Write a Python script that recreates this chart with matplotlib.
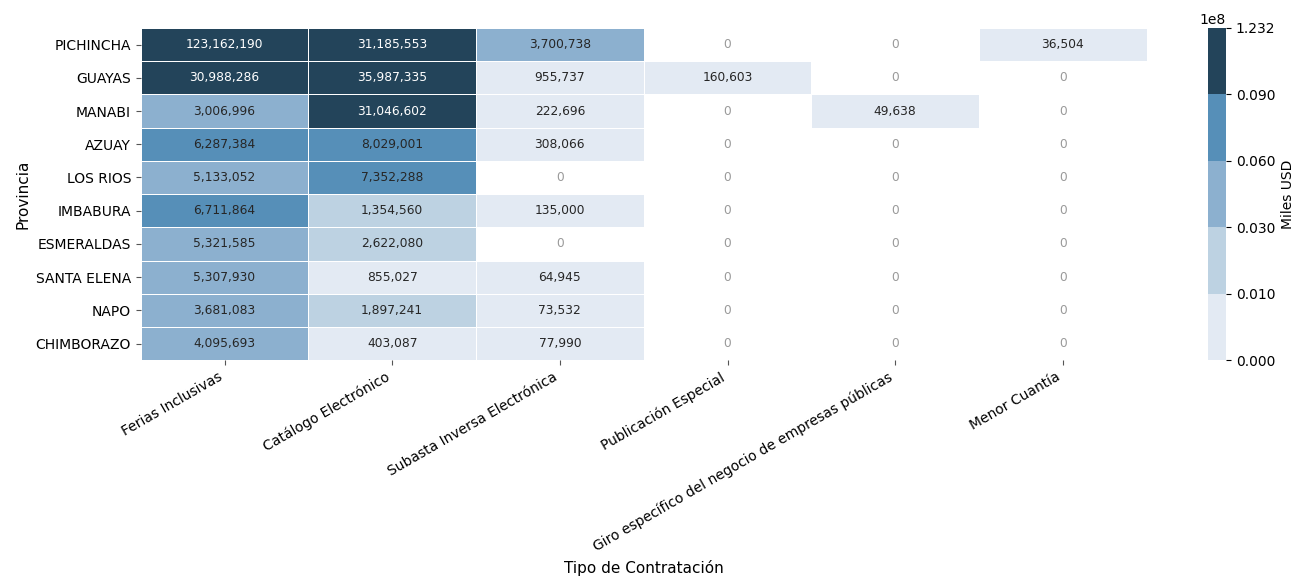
import matplotlib
matplotlib.use("Agg")
import matplotlib.pyplot as plt
from matplotlib.colors import ListedColormap, BoundaryNorm
from matplotlib.ticker import ScalarFormatter
import numpy as np

provincias = ["PICHINCHA", "GUAYAS", "MANABI", "AZUAY", "LOS RIOS",
              "IMBABURA", "ESMERALDAS", "SANTA ELENA", "NAPO", "CHIMBORAZO"]
tipos = ["Ferias Inclusivas", "Catálogo Electrónico", "Subasta Inversa Electrónica",
         "Publicación Especial", "Giro específico del negocio de empresas públicas",
         "Menor Cuantía"]

ferias = [123162190, 30988286, 3006996, 6287384, 5133052,
          6711864, 5321585, 5307930, 3681083, 4095693]
catalogo = [31185553, 35987335, 31046602, 8029001, 7352288,
            1354560, 2622080, 855027, 1897241, 403087]
subasta = [3700738, 955737, 222696, 308066, 0,
           135000, 0, 64945, 73532, 77990]
publicacion = [0, 160603, 0, 0, 0, 0, 0, 0, 0, 0]
giro = [0, 0, 49638, 0, 0, 0, 0, 0, 0, 0]
menor = [36504, 0, 0, 0, 0, 0, 0, 0, 0, 0]

limites = [0, 1e6, 3e6, 6e6, 9e6, max(ferias)]
colores = ["#e3eaf3", "#bdd2e2", "#8cb0cf", "#568fb8", "#23445a"]


def main():
    data = np.array([ferias, catalogo, subasta, publicacion, giro, menor], dtype=float).T
    # zeros stay blank (white)
    masked = np.ma.masked_equal(data, 0)

    cmap = ListedColormap(colores)
    norm = BoundaryNorm(limites, cmap.N)

    fig = plt.figure(figsize=(13.03, 5.82), dpi=100)
    ax = fig.add_axes([0.108, 0.381, 0.772, 0.571])
    cax = fig.add_axes([0.927, 0.381, 0.014, 0.571])

    mesh = ax.pcolormesh(masked, cmap=cmap, norm=norm, edgecolor="white", linewidth=0.7)
    ax.set_xlim(0, data.shape[1])
    ax.set_ylim(data.shape[0], 0)
    for s in ax.spines.values():
        s.set_visible(False)

    for i in range(data.shape[0]):
        for j in range(data.shape[1]):
            v = data[i, j]
            if v == 0:
                col = "#9a9a9a"
            elif v >= 9e6:
                col = "white"
            else:
                col = "#262626"
            ax.text(j + 0.5, i + 0.5, f"{int(v):,}", ha="center", va="center",
                    fontsize=8.8, color=col)

    ax.set_xticks(np.arange(len(tipos)) + 0.5)
    ax.set_xticklabels(tipos, rotation=30, ha="right", fontsize=10)
    ax.set_yticks(np.arange(len(provincias)) + 0.5)
    ax.set_yticklabels(provincias, fontsize=10)
    ax.tick_params(length=3.5, color="#555555")
    ax.set_xlabel("Tipo de Contratación", fontsize=11)
    ax.set_ylabel("Provincia", fontsize=11)

    cb = fig.colorbar(mesh, cax=cax, ticks=limites, spacing="uniform")
    fmt = ScalarFormatter(useOffset=False)
    fmt.set_scientific(True)
    fmt.set_powerlimits((0, 0))
    cb.formatter = fmt
    cb.update_ticks()
    cb.outline.set_visible(False)
    cb.ax.tick_params(labelsize=10, length=3.5)
    cb.set_label("Miles USD", fontsize=10)

    fig.savefig("out.png", dpi=100)


if __name__ == '__main__':
    main()
